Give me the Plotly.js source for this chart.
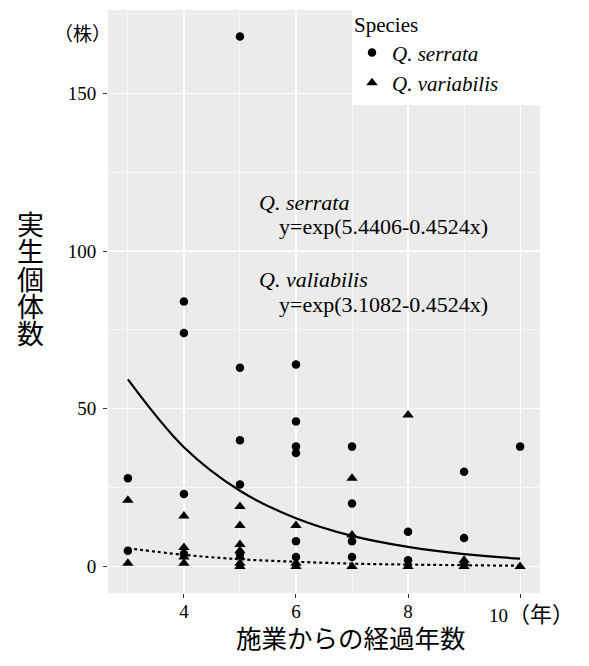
<!DOCTYPE html>
<html>
<head>
<meta charset="utf-8">
<script src="https://cdn.plot.ly/plotly-3.0.1.min.js"></script>
<style>html,body{margin:0;padding:0;background:#fff;}#chart{width:589px;height:666px;}</style>
</head>
<body>
<div id="chart"></div>
<script>
// ---- data ----
const serrataX = [3,3, 4,4,4,4, 5,5,5,5,5, 6,6,6,6,6,6, 7,7,7,7, 8,8, 9,9, 10];
const serrataY = [28,5, 84,74,23,4, 168,63,40,26,4, 64,46,38,36,8,3, 38,20,8,3, 11,2, 30,9, 38];
const variabilisX = [3,3, 4,4,4,4, 5,5,5,5,5,5,5, 6,6,6, 7,7,7, 8,8, 9,9,9, 10];
const variabilisY = [21,1, 16,6,3,1, 19,13,7,5,3,1,0, 13,1,0, 28,10,0, 48,0, 2,1,0, 0];
const fitX = [3,4,5,6,7,8,9,10];
const fitSerrata = [59.3,37.8,24.0,15.3,9.7,6.2,3.9,2.5];
const fitVariabilis = [5.8,3.7,2.3,1.5,0.9,0.6,0.4,0.24];
const xTicks = [4,6,8,10];
const xTickText = ['4','6','8',''];
const xMinor = [3,5,7,9];
const yTicks = [0,50,100,150];
const yMinor = [25,75,125,175];
const seriesNames = ['<i>Q. serrata</i>','<i>Q. variabilis</i>'];
const legendTitle = 'Species';
const xTitleText = '施業からの経過年数';
const yTitleChars = ['実','生','個','体','数'];
const yUnit = '（株）';
const xLastLabel = '10<span style="font-size:22px">（年）</span>';
const eqLines = ['<i>Q. serrata</i>','y=exp(5.4406-0.4524x)','<i>Q. valiabilis</i>','y=exp(3.1082-0.4524x)'];

// ---- geometry helpers ----
const L=108, R=540, T=5, B=593;
const px = v => (v-L)/(R-L);
const py = v => (B-v)/(B-T);
const SERIF = "'Liberation Serif','Times New Roman',serif";
const CJK = "'Noto Sans CJK JP','Noto Sans CJK SC',sans-serif";
const MIX = "'Liberation Serif','Noto Sans CJK JP',serif";
const Y_TITLE_SIZE = 27, Y_TITLE_PITCH = 27.3;

const traces = [
  {x: fitX, y: fitSerrata, mode:'lines', line:{color:'#000', width:2.2, shape:'spline'}, showlegend:false, hoverinfo:'skip'},
  {x: fitX, y: fitVariabilis, mode:'lines', line:{color:'#000', width:2.2, dash:'dot', shape:'spline'}, showlegend:false, hoverinfo:'skip'},
  {x: serrataX, y: serrataY, mode:'markers', name: seriesNames[0], marker:{symbol:'circle', size:8.5, color:'#000'}},
  {x: variabilisX, y: variabilisY, mode:'markers', name: seriesNames[1], marker:{symbol:'triangle-up', size:10, color:'#000'}}
];

const annotations = [];
// stacked vertical y title: one text, line pitch tightened after render
const nChars = yTitleChars.length;
const mid = (nChars-1)/2;
const yTitleCenter = 275 + mid*(1.3*Y_TITLE_SIZE - Y_TITLE_PITCH);
annotations.push({xref:'paper', yref:'paper', x:px(30), y:py(yTitleCenter), text:yTitleChars.join('<br>'), showarrow:false,
  xanchor:'center', yanchor:'middle', font:{family:CJK, size:Y_TITLE_SIZE, color:'#000'}});
annotations.push({xref:'paper', yref:'paper', x:px(351), y:py(637), text:xTitleText, showarrow:false,
  xanchor:'center', yanchor:'middle', font:{family:CJK, size:25.5, color:'#000'}});
annotations.push({xref:'paper', yref:'paper', x:px(82), y:py(30), text:yUnit, showarrow:false,
  xanchor:'center', yanchor:'middle', font:{family:MIX, size:19, color:'#000'}});
annotations.push({xref:'x', yref:'paper', x:xTicks[xTicks.length-1], xshift:-33, y:py(615), text:xLastLabel, showarrow:false,
  xanchor:'left', yanchor:'middle', font:{family:MIX, size:19, color:'#000'}});
const eqPos = [[257,199],[277,223],[257,277],[277,302]];
eqLines.forEach((t,i)=>{
  annotations.push({xref:'paper', yref:'paper', x:px(eqPos[i][0]), y:py(eqPos[i][1]), text:t, showarrow:false,
    xanchor:'left', yanchor:'middle', font:{family:SERIF, size:22, color:'#000'}});
});

const layout = {
  width:589, height:666,
  margin:{l:L, r:589-R, t:T, b:666-B, pad:0},
  paper_bgcolor:'#fff', plot_bgcolor:'#EBEBEB',
  font:{family:SERIF, size:19, color:'#000'},
  xaxis:{range:[2.645,10.355], tickmode:'array', tickvals:xTicks, ticktext:xTickText,
    showgrid:true, gridcolor:'#fff', gridwidth:1.2, zeroline:false, showline:false,
    ticks:'outside', ticklen:4, tickwidth:1, tickcolor:'#333', ticklabelstandoff:-3,
    tickfont:{family:SERIF, size:19, color:'#000'},
    minor:{tickmode:'array', tickvals:xMinor, showgrid:true, gridcolor:'#fff', gridwidth:0.6, ticks:''}},
  yaxis:{range:[-8.4,176.4], tickmode:'array', tickvals:yTicks,
    showgrid:true, gridcolor:'#fff', gridwidth:1.2, zeroline:false, showline:false,
    ticks:'outside', ticklen:4, tickwidth:1, tickcolor:'#333', ticklabelstandoff:3,
    tickfont:{family:SERIF, size:19, color:'#000'},
    minor:{tickmode:'array', tickvals:yMinor, showgrid:true, gridcolor:'#fff', gridwidth:0.6, ticks:''}},
  legend:{x:px(352), y:py(0), xanchor:'left', yanchor:'top', bgcolor:'#fff', borderwidth:0,
    title:{text:legendTitle, font:{family:SERIF, size:21, color:'#000'}},
    font:{family:SERIF, size:21, color:'#000'}, itemwidth:30, tracegroupgap:0},
  shapes:[{type:'rect', xref:'paper', yref:'paper', x0:px(352), x1:px(540), y0:py(101), y1:py(0),
    fillcolor:'#fff', line:{width:0}, layer:'above'}],
  annotations: annotations,
  showlegend:true
};

Plotly.newPlot('chart', traces, layout, {displayModeBar:false, staticPlot:true}).then(()=>{
  document.querySelectorAll('.annotation-text').forEach(el=>{
    if ((el.textContent||'').indexOf(yTitleChars[0]) === 0) {
      el.querySelectorAll('tspan.line').forEach((ts,i)=>{
        ts.setAttribute('dy', (i*Y_TITLE_PITCH)+'px');
      });
    }
  });
});
</script>
</body>
</html>
